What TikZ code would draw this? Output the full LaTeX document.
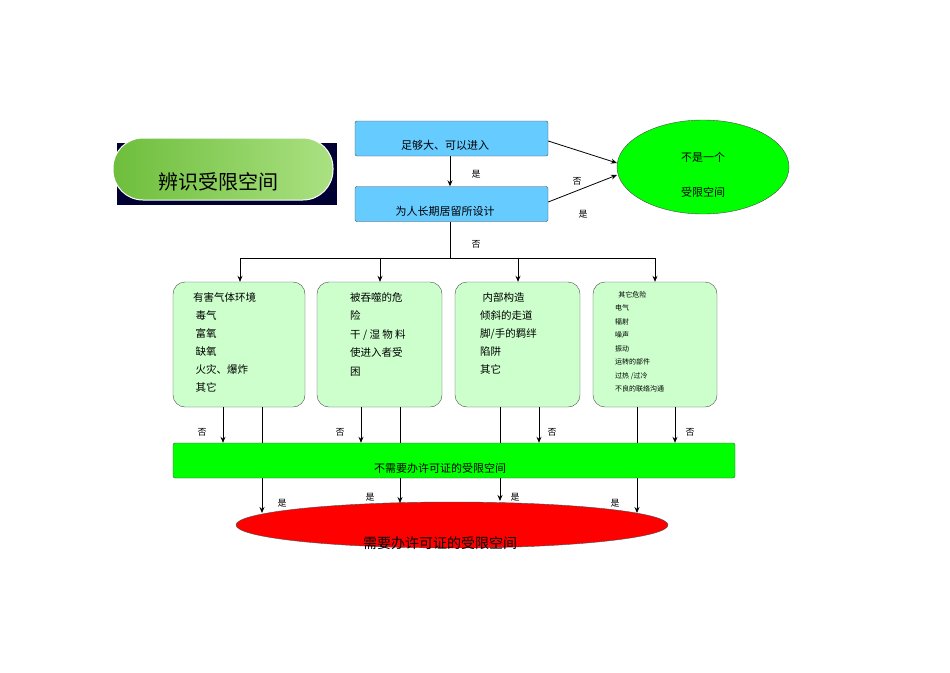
\documentclass[tikz,border=0pt]{standalone}
\usepackage{fontspec}
\setmainfont{Noto Sans CJK SC}
\usetikzlibrary{arrows.meta,shapes.geometric,shadows}
\begin{document}
\begin{tikzpicture}[x=1pt,y=-1pt,
  arr/.style={-{Stealth[length=6pt,width=5pt]},line width=0.8pt},
  ln/.style={line width=0.8pt},
  bluebox/.style={draw=black!70,fill=cyan!45!blue!25!white,fill={rgb,255:red,102;green,204;blue,255},rounded corners=2pt,minimum width=193pt,minimum height=35pt,inner sep=0pt,font=\fontsize{11}{13}\selectfont},
  greenbox/.style={draw=black!70,fill={rgb,255:red,204;green,255;blue,204},rounded corners=12pt,minimum height=125pt,inner sep=0pt},
  lbl/.style={font=\fontsize{9}{10}\selectfont,inner sep=0pt}]
\useasboundingbox (0,0) rectangle (950,672);
% title pill
\fill[black!80!blue] (117,143) rectangle ++(220,62) [rounded corners=28pt];
\shade[left color={rgb,255:red,110;green,190;blue,60},right color={rgb,255:red,170;green,225;blue,130},draw=white,line width=1pt,rounded corners=30pt] (113,138) rectangle (333,200);
\node (title) at (218,182) {\fontsize{20}{22}\selectfont 辨识受限空间};
% top boxes
\node[bluebox] (b1) at (451.5,138.5) {};
\node[lbl,font=\fontsize{11}{13}\selectfont] at (445,145) {足够大、可以进入};
\node[bluebox] (b2) at (451.5,204) {};
\node[lbl,font=\fontsize{11}{13}\selectfont] at (445,211) {为人长期居留所设计};
\node[ellipse,draw=black!70,fill={rgb,255:red,0;green,255;blue,0},minimum width=172pt,minimum height=94pt] (notc) at (703,167) {};
\node[font=\fontsize{11}{13}\selectfont] at (703,157) {不是一个};
\node[font=\fontsize{11}{13}\selectfont] at (703,192) {受限空间};
\draw[arr] (b1.south -| 450,0) -- (b2.north -| 450,0);
\node[lbl] at (476,174) {是};
\draw[arr] (b1.east |- 0,141) -- (617,163);
\draw[arr] (b2.east |- 0,202) -- (617,175);
\node[lbl] at (577,181) {否};
\node[lbl] at (583,214) {是};
\coordinate (split) at (450,258);
\draw[ln] (b2.south -| 450,0) -- (split);
\node[lbl] at (476,244) {否};
\draw[ln] (240,258) -- (655,258);
% hazard boxes
\node[greenbox,minimum width=132pt] (h1) at (239,344.5) {};
\node[greenbox,minimum width=125pt] (h2) at (379.5,344.5) {};
\node[greenbox,minimum width=125pt] (h3) at (517.5,344.5) {};
\node[greenbox,minimum width=124pt] (h4) at (655,344.5) {};
\foreach \x/\h in {240/h1,380/h2,518/h3,655/h4} \draw[arr] (\x,258) -- (\h.north -| \x,0);
\node[anchor=north west,align=left,inner sep=0pt,font=\fontsize{10.5}{18}\selectfont] at (193,292) {有害气体环境\\\ 毒气\\\ 富氧\\\ 缺氧\\\ 火灾、爆炸\\\ 其它};
\node[anchor=north west,align=left,inner sep=0pt,font=\fontsize{10.5}{18.5}\selectfont] at (350,292) {被吞噬的危\\险\\干 / 湿 物 料\\使进入者受\\困};
\node[anchor=north west,align=left,inner sep=0pt,font=\fontsize{10.5}{18}\selectfont] at (480,292) {\ 内部构造\\倾斜的走道\\脚/手的羁绊\\陷阱\\其它};
\node[anchor=north west,align=left,inner sep=0pt,font=\fontsize{7}{13.5}\selectfont] at (615,291) {\ \ 其它危险\\电气\\辐射\\噪声\\振动\\运转的部件\\过热 /过冷\\不良的联络沟通};
% bar
\node[draw=black!70,fill={rgb,255:red,0;green,255;blue,0},rounded corners=2pt,minimum width=562pt,minimum height=35pt,inner sep=0pt] (bar) at (454,460.5) {};
\node[lbl,font=\fontsize{11}{13}\selectfont] at (440,468) {不需要办许可证的受限空间};
\node[ellipse,draw=black!70,fill={rgb,255:red,255;green,0;blue,0},minimum width=432pt,minimum height=46pt] (perm) at (452,525) {};
\node[font=\fontsize{14}{16}\selectfont] at (440,543) {需要办许可证的受限空间};
% no arrows
\foreach \x/\h in {223/h1,361/h2,539/h3,675/h4} \draw[arr] (\h.south -| \x,0) -- (bar.north -| \x,0);
\node[lbl] at (202,432) {否};
\node[lbl] at (340,432) {否};
\node[lbl] at (552,432) {否};
\node[lbl] at (690,432) {否};
% yes lines
\foreach \x/\h/\y in {262/h1/513,400/h2/503,500/h3/501,637/h4/513} {
  \draw[ln] (\h.south -| \x,0) -- (bar.north -| \x,0);
  \draw[arr] (bar.south -| \x,0) -- (\x,\y);
}
\node[lbl] at (282,503) {是};
\node[lbl] at (370,497) {是};
\node[lbl] at (515,497) {是};
\node[lbl] at (615,503) {是};
\end{tikzpicture}
\end{document}
